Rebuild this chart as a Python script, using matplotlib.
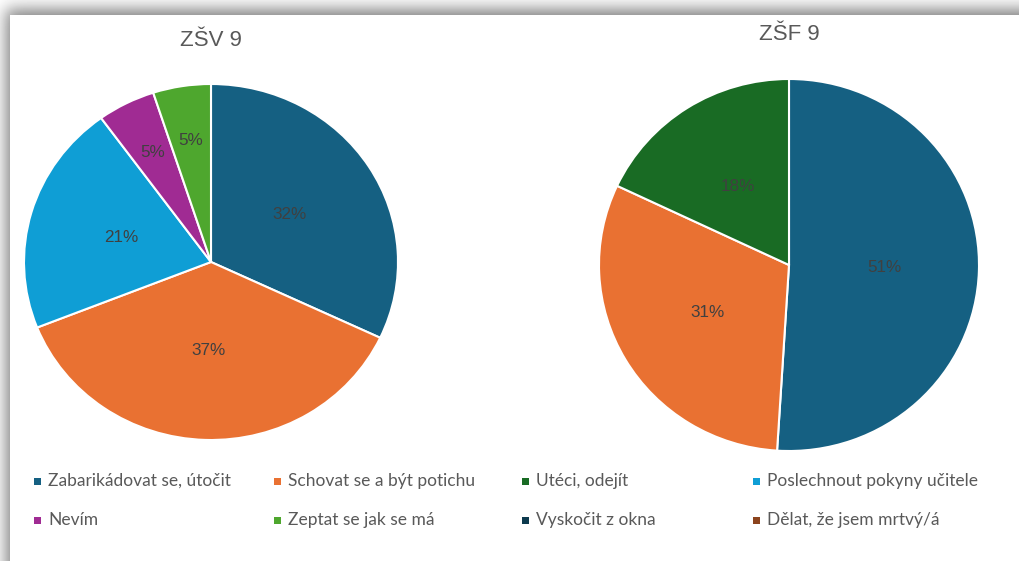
import numpy as np
import matplotlib
matplotlib.use("Agg")
import matplotlib.pyplot as plt
from matplotlib.patches import Rectangle

W, H = 1020, 561

categories = [
    "Zabarikádovat se, útočit",
    "Schovat se a být potichu",
    "Utéci, odejít",
    "Poslechnout pokyny učitele",
    "Nevím",
    "Zeptat se jak se má",
    "Vyskočit z okna",
    "Dělat, že jsem mrtvý/á",
]
colors = ["#156082", "#E97132", "#196B24", "#0F9ED5",
          "#A02B93", "#4EA72E", "#0D3A4E", "#8C441E"]

zsv9 = [32, 37, 0, 21, 5, 5, 0, 0]
zsf9 = [51, 31, 18, 0, 0, 0, 0, 0]

titles = ["ZŠV 9", "ZŠF 9"]


def fx(x):
    return x / W


def fy(y):
    return 1 - y / H


fig = plt.figure(figsize=(W / 100, H / 100), dpi=100)

# soft drop shadow behind the white card
bg = fig.add_axes([0, 0, 1, 1])
xx, yy = np.meshgrid(np.arange(W) + 0.5, np.arange(H) + 0.5)
gx = 1 / (1 + np.exp(-(xx - 6) / 5))
gy = 1 / (1 + np.exp(-(yy - 9) / 5))
shade = 1 - 0.5 * gx * gy
shade[(xx >= 10) & (yy >= 15)] = 1.0
bg.imshow(shade, cmap="gray", vmin=0, vmax=1, extent=(0, W, H, 0),
          interpolation="bilinear", aspect="auto")
bg.set_xlim(0, W)
bg.set_ylim(H, 0)
bg.axis("off")


def draw_pie(values, cx, cy, rx, ry, title, ty):
    ax = fig.add_axes([fx(cx - rx), fy(cy + ry), 2 * rx / W, 2 * ry / H])
    vals = [v for v in values if v > 0]
    cols = [c for v, c in zip(values, colors) if v > 0]
    wedges, _ = ax.pie(vals, colors=cols, startangle=90, counterclock=False,
                       wedgeprops=dict(edgecolor="white", linewidth=1.5))
    # the pasted chart is slightly stretched, so let the pie fill the box
    ax.set_aspect("auto")
    ax.set_xlim(-1, 1)
    ax.set_ylim(-1, 1)
    for w, v in zip(wedges, vals):
        mid = np.deg2rad((w.theta1 + w.theta2) / 2)
        d = 0.69 if v < 10 else 0.5
        ax.text(d * np.cos(mid), d * np.sin(mid), f"{v}%", ha="center",
                va="center", fontsize=12.3, color="#404040",
                family="Liberation Sans")
    fig.text(fx(cx), fy(ty), title, ha="center", va="center", fontsize=16,
             color="#595959", family="Liberation Sans")


draw_pie(zsv9, 211, 262, 187, 178, titles[0], 41)
draw_pie(zsf9, 789, 265, 190, 186, titles[1], 35)

# legend laid out in two rows of four
col_x = [34, 274, 522, 753]
row_y = [481, 520]
for i, (name, c) in enumerate(zip(categories, colors)):
    x = col_x[i % 4]
    y = row_y[i // 4]
    fig.patches.append(Rectangle((fx(x), fy(y + 3.5)), 7 / W, 7 / H,
                                 transform=fig.transFigure, facecolor=c,
                                 edgecolor="none"))
    fig.text(fx(x + 14), fy(y), name, ha="left", va="center", fontsize=12.5,
             color="#595959", family="Lato")

fig.savefig("out.png", dpi=100)
